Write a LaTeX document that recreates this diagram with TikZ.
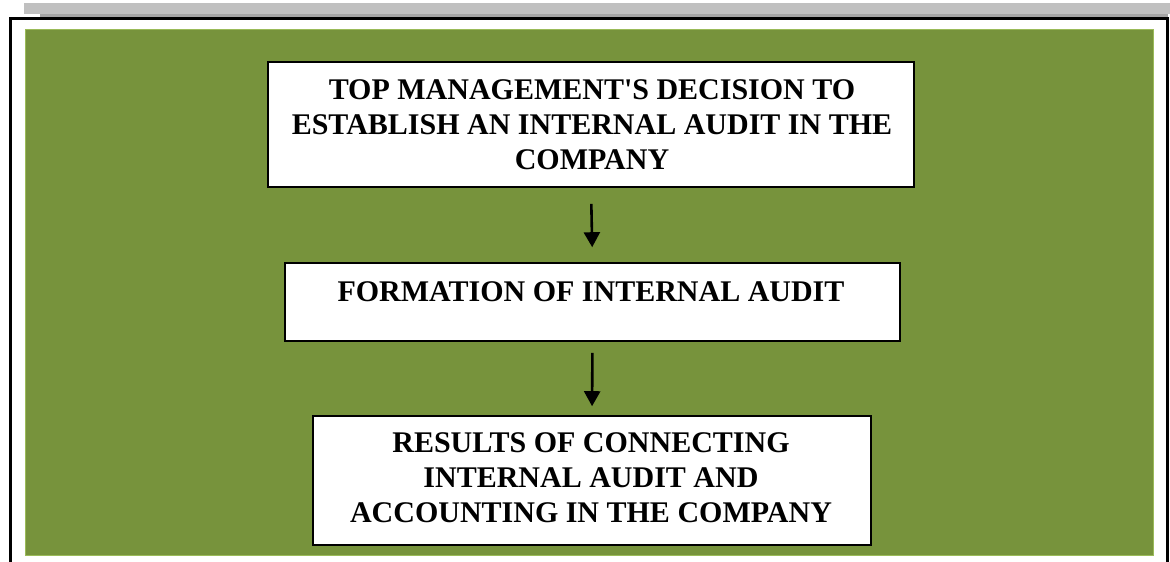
\documentclass[tikz,border=0pt]{standalone}
\usepackage{fontspec}
\setmainfont{Liberation Serif}
\usetikzlibrary{arrows.meta}
\definecolor{leaf}{HTML}{77933C}
\definecolor{leafedge}{HTML}{9BBB59}
\definecolor{barlight}{HTML}{C0C0C0}
\definecolor{bardark}{HTML}{A5A5A5}
\tikzset{
  stepbox/.style={draw=black, line width=1.6pt, fill=white, inner sep=0pt},
  lbl/.style={font=\fontsize{30}{35}\selectfont\bfseries, align=center, inner sep=0pt},
  arr/.style={line width=2.6pt, -{Triangle[length=15pt,width=16pt]}}
}
\begin{document}
\begin{tikzpicture}[x=1pt,y=-1pt]
\useasboundingbox (0,0) rectangle (1170,562);
% header bar
\fill[barlight] (24,3) rectangle (1170,14);
\fill[bardark] (40,14) rectangle (1168,17.5);
% page frame, open at the bottom
\draw[line width=2.5pt] (10.5,562) -- (10.5,18.5) -- (1167.5,18.5) -- (1167.5,562);
% green panel
\fill[leaf] (25,29) rectangle (1153,555);
\draw[leafedge, line width=0.8pt] (25,29) rectangle (1153,555);
% boxes
\node[stepbox, minimum width=646pt, minimum height=125pt] (b1) at (591,124.5) {};
\node[stepbox, minimum width=615pt, minimum height=78pt] (b2) at (592.5,302) {};
\node[stepbox, minimum width=558pt, minimum height=129pt] (b3) at (592,480.5) {};
% labels
\node[lbl] (t1) at (592,125) {TOP MANAGEMENT\textquotesingle S DECISION TO\\ESTABLISH AN INTERNAL AUDIT IN THE\\COMPANY};
\node[lbl] (t2) at (591,292) {FORMATION OF INTERNAL AUDIT};
\node[lbl] (t3) at (591,478) {RESULTS OF CONNECTING\\INTERNAL AUDIT AND\\ACCOUNTING IN THE COMPANY};
% connectors
\draw[arr, shorten <=16pt, shorten >=15pt] (b1.south) -- (b2.north);
\draw[arr, shorten <=11pt, shorten >=9pt] (b2.south) -- (b3.north);
\end{tikzpicture}
\end{document}
